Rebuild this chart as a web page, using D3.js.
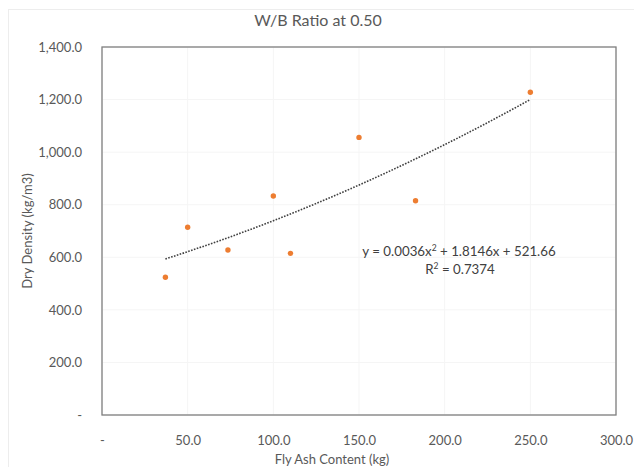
<!DOCTYPE html>
<html>
<head>
<meta charset="utf-8">
<script src="https://cdn.jsdelivr.net/npm/d3@7"></script>
<style>
  body { margin: 0; background: #fff; }
  text { font-family: Lato, "Open Sans", sans-serif; }
</style>
</head>
<body>
<div id="chart"></div>
<script>
// Data
var flyAsh = [37, 50, 73.5, 100, 110, 150, 183, 250];
var dryDensity = [524, 714, 628, 833, 615, 1056, 815, 1228];
var xTicks = [0, 50, 100, 150, 200, 250, 300];
var yTicks = [0, 200, 400, 600, 800, 1000, 1200, 1400];
// Trendline coefficients as printed on the chart (a x^2 + b x + c)
var trendCoef = [0.0036, 1.8146, 521.66];
var trendLabel = ["y = 0.0036x", " + 1.8146x + 521.66"];
var r2Label = "0.7374";

var W = 634, H = 467;
var m = { left: 102, right: 18, top: 47, bottom: 52 };

var svg = d3.select("#chart").append("svg")
  .attr("width", W).attr("height", H);

// faint outer chart border
svg.append("rect")
  .attr("x", 8.5).attr("y", 9.5)
  .attr("width", W).attr("height", H)
  .attr("fill", "none").attr("stroke", "#ededed");

var x = d3.scaleLinear().domain([0, 300]).range([m.left, W - m.right]);
var y = d3.scaleLinear().domain([0, 1400]).range([H - m.bottom, m.top]);

function fmt(v) {
  return v === 0 ? "-" : d3.format(",.1f")(v);
}

// gridlines, barely visible
svg.append("g").selectAll("line.gx").data(xTicks).enter().append("line")
  .attr("x1", d => x(d)).attr("x2", d => x(d))
  .attr("y1", y(0)).attr("y2", y(1400))
  .attr("stroke", "#f5f5f5");
svg.append("g").selectAll("line.gy").data(yTicks).enter().append("line")
  .attr("x1", x(0)).attr("x2", x(300))
  .attr("y1", d => y(d)).attr("y2", d => y(d))
  .attr("stroke", "#f5f5f5");

// plot area frame
svg.append("rect")
  .attr("x", x(0)).attr("y", y(1400))
  .attr("width", x(300) - x(0)).attr("height", y(0) - y(1400))
  .attr("fill", "none").attr("stroke", "#7f7f7f").attr("stroke-width", 1.3);

// axes (labels only, Excel style)
var xAxis = svg.append("g")
  .attr("transform", "translate(0," + (y(0) + 18) + ")")
  .call(d3.axisBottom(x).tickValues(xTicks).tickFormat(fmt).tickSize(0));
xAxis.select(".domain").remove();
xAxis.selectAll("text").attr("font-size", 13).attr("fill", "#595959")
  .attr("font-family", "Lato, sans-serif");

var yAxis = svg.append("g")
  .attr("transform", "translate(" + (x(0) - 17) + ",0)")
  .call(d3.axisLeft(y).tickValues(yTicks).tickFormat(fmt).tickSize(0));
yAxis.select(".domain").remove();
yAxis.selectAll("text").attr("font-size", 13).attr("fill", "#595959")
  .attr("font-family", "Lato, sans-serif");

// trendline (polynomial order 2), dotted
var trendX = d3.range(d3.min(flyAsh), d3.max(flyAsh) + 0.01, 2);
trendX.push(d3.max(flyAsh));
var trendLine = d3.line()
  .x(d => x(d))
  .y(d => y(trendCoef[0] * d * d + trendCoef[1] * d + trendCoef[2]));
svg.append("path")
  .datum(trendX)
  .attr("d", trendLine)
  .attr("fill", "none")
  .attr("stroke", "#404040")
  .attr("stroke-width", 1.6)
  .attr("stroke-dasharray", "1.6 1.4");

// points
svg.append("g").selectAll("circle").data(flyAsh).enter().append("circle")
  .attr("cx", d => x(d))
  .attr("cy", (d, i) => y(dryDensity[i]))
  .attr("r", 2.7)
  .attr("fill", "#ED7D31");

// equation label
var eq = svg.append("text")
  .attr("x", 459).attr("y", 256)
  .attr("text-anchor", "middle")
  .attr("font-size", 13.3).attr("fill", "#404040");
eq.append("tspan").text(trendLabel[0]);
eq.append("tspan").attr("font-size", 8.5).attr("dy", -5).text("2");
eq.append("tspan").attr("dy", 5).text(trendLabel[1]);

var r2 = svg.append("text")
  .attr("x", 460).attr("y", 274)
  .attr("text-anchor", "middle")
  .attr("font-size", 13.3).attr("fill", "#404040");
r2.append("tspan").text("R");
r2.append("tspan").attr("font-size", 8.5).attr("dy", -5).text("2");
r2.append("tspan").attr("dy", 5).text(" = " + r2Label);

// title
svg.append("text")
  .attr("x", 318).attr("y", 26)
  .attr("text-anchor", "middle")
  .attr("font-size", 16).attr("fill", "#595959")
  .text("W/B Ratio at 0.50");

// axis titles
svg.append("text")
  .attr("x", (x(0) + x(300)) / 2 - 27).attr("y", 464)
  .attr("text-anchor", "middle")
  .attr("font-size", 13).attr("fill", "#595959")
  .text("Fly Ash Content (kg)");

svg.append("text")
  .attr("transform", "translate(32," + ((y(0) + y(1400)) / 2) + ") rotate(-90)")
  .attr("text-anchor", "middle")
  .attr("font-size", 13).attr("fill", "#595959")
  .text("Dry Density (kg/m3)");
</script>
</body>
</html>
